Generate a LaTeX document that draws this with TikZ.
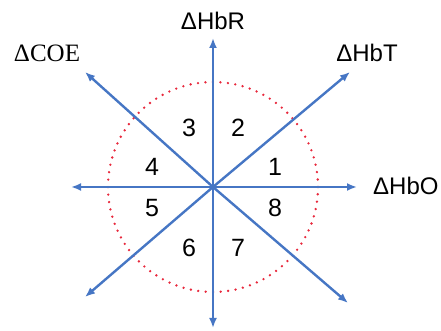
\documentclass[tikz,border=0pt]{standalone}
\usepackage{fontspec}
\setmainfont{Liberation Sans}
\newfontfamily\serifname{Liberation Serif}
\usepackage{xcolor}
\usetikzlibrary{positioning, arrows.meta}
\definecolor{axisblue}{RGB}{70,118,196}
\definecolor{dotred}{RGB}{232,40,60}

\begin{document}
\begin{tikzpicture}[
    x=1pt, y=1pt,
    every node/.style={inner sep=1pt},
    axis/.style ={-{Latex[length=10pt, width=8pt]}, line width=2.4pt, draw=axisblue},
    ring/.style ={draw=dotred, line width=2.6pt, dash pattern=on 0pt off 7.5pt, line cap=round},
    num/.style  ={font=\fontsize{25}{27}\selectfont},
    lbl/.style  ={font=\fontsize{24}{26}\selectfont}
]
\useasboundingbox (0,0) rectangle (441,331);

% Centre and axis tips
\coordinate (o)  at (213,144);
\coordinate (e)  at (357,144);
\coordinate (ne) at (350,259);
\coordinate (n)  at (213,293);
\coordinate (nw) at (85,259);
\coordinate (w)  at (71,144);
\coordinate (sw) at (85,34);
\coordinate (s)  at (213,3);
\coordinate (se) at (348,28);

% Dotted circle
\draw[ring] (o) circle (105);

% Axes
\foreach \t in {e, ne, n, nw, w, sw, s, se}
    \draw[axis] (o) -- (\t);

% Axis labels
\node[lbl] (hbr) at (213,310) {ΔHbR};
\node[lbl] (hbt) at (367,278) {ΔHbT};
\node[lbl, anchor=west] (hbo) at (372,145) {ΔHbO};
\node[lbl, font=\serifname\fontsize{25}{27}\selectfont] (coe) at (47,278) {ΔCOE};

% Sector numbers
\node[num] (s1) at (275,164) {1};
\node[num] (s2) at (238,203) {2};
\node[num] (s3) at (189,203) {3};
\node[num] (s4) at (152,164) {4};
\node[num] (s5) at (152,123) {5};
\node[num] (s6) at (189,83)  {6};
\node[num] (s7) at (238,83)  {7};
\node[num] (s8) at (275,123) {8};
\end{tikzpicture}
\end{document}
